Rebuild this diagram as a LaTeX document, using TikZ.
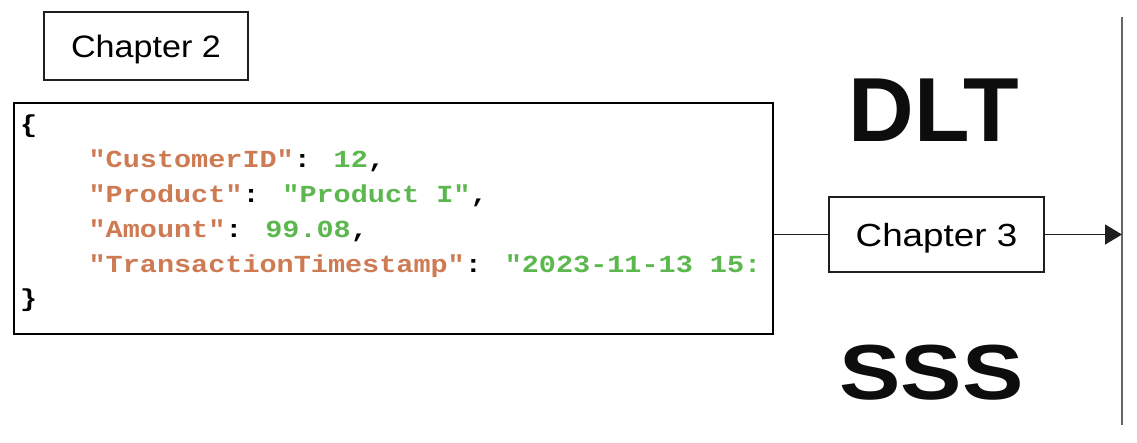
\documentclass[tikz,border=0pt]{standalone}
\usepackage{fontspec}
\usepackage{graphicx}
\setmainfont{Liberation Sans}
\newfontfamily\codefont{Liberation Mono}
\usetikzlibrary{arrows.meta}
\definecolor{keyc}{RGB}{206,123,84}
\definecolor{valc}{RGB}{92,184,78}
\definecolor{edgec}{RGB}{30,30,30}
\begin{document}
\begin{tikzpicture}[x=1pt,y=-1pt,
  chapbox/.style={draw=edgec, line width=1.4pt, inner sep=0pt, text depth=0pt},
  codeline/.style={anchor=base west, inner sep=0pt, yscale=0.86,
    font=\codefont\bfseries\fontsize{28.5}{30}\selectfont},
  bigword/.style={anchor=base, inner sep=0pt, text=black!95,
    font=\bfseries\fontsize{91}{95}\selectfont},
  conn/.style={line width=1.3pt, draw=edgec},
  axis/.style={line width=2pt, draw=black!60}]
\fill[white] (0,0) rectangle (1137,443);

% Chapter 2
\node[chapbox, minimum width=204pt, minimum height=68pt,
  font=\fontsize{31}{34}\selectfont] (ch2) at (146,46) {\scalebox{1.1}[1]{Chapter 2}};

% JSON box
\node[draw=black, line width=2.2pt, minimum width=759pt, minimum height=231pt,
  inner sep=0pt, anchor=north west] (json) at (13,102) {};
\begin{scope}
\clip (json.north west) rectangle (json.south east);
\node[codeline] (l0) at (20,133) {\{};
\node[codeline] (l1) at (88.4,168) {\textcolor{keyc}{"CustomerID"}: \textcolor{valc}{12},};
\node[codeline] (l2) at (88.4,202.6) {\textcolor{keyc}{"Product"}: \textcolor{valc}{"Product I"},};
\node[codeline] (l3) at (88.4,237.4) {\textcolor{keyc}{"Amount"}: \textcolor{valc}{99.08},};
\node[codeline] (l4) at (88.4,272.2) {\textcolor{keyc}{"TransactionTimestamp"}: \textcolor{valc}{"2023-11-13 15:}};
\node[codeline] (l5) at (20,307) {\}};
\end{scope}

% Chapter 3
\node[chapbox, minimum width=215pt, minimum height=75pt,
  font=\fontsize{32}{35}\selectfont] (ch3) at (936.5,234.5) {\scalebox{1.15}[1]{Chapter 3}};

% big words
\node[bigword] (dlt) at (933.5,142) {DLT};
\node[bigword, font=\bfseries\fontsize{78}{82}\selectfont] (sss) at (931.5,399) {\scalebox{1.18}[1]{SSS}};

% vertical line
\coordinate (vtop) at (1122,17);
\coordinate (vbot) at (1122,425);
\coordinate (hit) at (vtop |- ch3.east);
\draw[axis] (vtop) -- (vbot);

% connectors
\draw[conn] (json.east |- ch3.west) -- (ch3.west);
\draw[conn, -{Triangle[length=17pt,width=20pt]}] (ch3.east) -- (hit);
\end{tikzpicture}
\end{document}
